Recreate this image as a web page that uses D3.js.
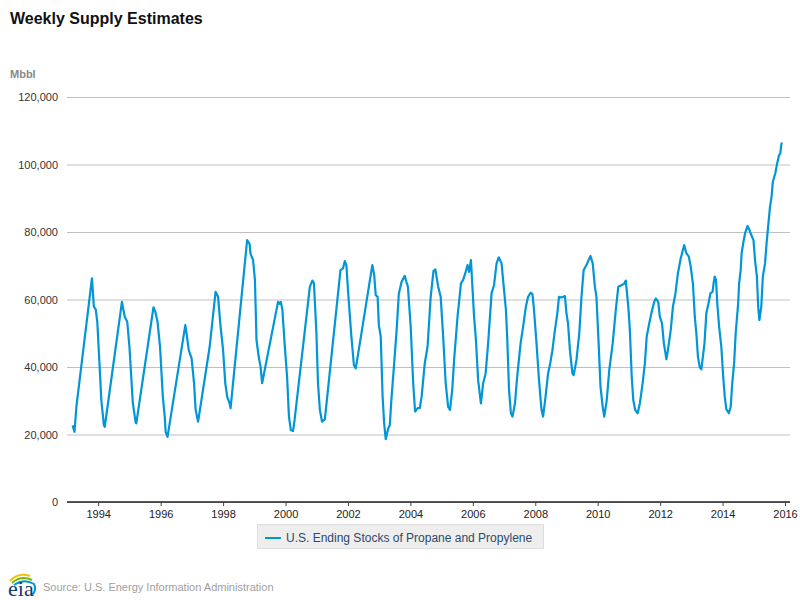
<!DOCTYPE html>
<html>
<head>
<meta charset="utf-8">
<script src="https://cdn.jsdelivr.net/npm/d3@7"></script>
<style>
  body { margin: 0; background: #fff; }
  svg { font-family: "Liberation Sans", Arial, sans-serif; }
</style>
</head>
<body>
<svg id="chart" width="800" height="600"></svg>
<script>
// Weekly propane/propylene stocks (decimal year, Mbbl)
const weeks = [
  1993.18, 1993.24, 1993.30, 1993.80, 1993.86, 1993.92, 1993.97, 1994.04, 1994.10, 1994.18, 1994.21,
  1994.76, 1994.85, 1994.93, 1995.00, 1995.11, 1995.20, 1995.22,
  1995.77, 1995.83, 1995.90, 1995.98, 1996.07, 1996.13, 1996.16, 1996.22,
  1996.79, 1996.83, 1996.90, 1996.99, 1997.07, 1997.12, 1997.20,
  1997.57, 1997.76, 1997.84, 1997.91, 1998.00, 1998.07, 1998.13, 1998.21, 1998.24,
  1998.77, 1998.85, 1998.88, 1998.96, 1999.02, 1999.07, 1999.14, 1999.20, 1999.25,
  1999.76, 1999.81, 1999.85, 1999.90, 1999.97, 2000.05, 2000.11, 2000.17, 2000.24, 2000.29,
  2000.78, 2000.86, 2000.91, 2000.99, 2001.04, 2001.10, 2001.17, 2001.26,
  2001.76, 2001.84, 2001.90, 2001.95, 2002.00, 2002.11, 2002.19, 2002.25, 2002.38,
  2002.78, 2002.84, 2002.89, 2002.95, 2002.99, 2003.05, 2003.11, 2003.16, 2003.21, 2003.29, 2003.34,
  2003.39, 2003.48, 2003.56, 2003.63, 2003.72, 2003.82, 2003.87, 2003.92,
  2004.01, 2004.09, 2004.15, 2004.23, 2004.30, 2004.36, 2004.46, 2004.55, 2004.65, 2004.74, 2004.80,
  2004.89, 2004.97, 2005.05, 2005.13, 2005.21, 2005.27, 2005.34, 2005.40, 2005.51, 2005.62, 2005.69,
  2005.77, 2005.83, 2005.88, 2005.94, 2005.98, 2006.04, 2006.10, 2006.17, 2006.26, 2006.33, 2006.41,
  2006.49, 2006.60, 2006.68, 2006.76, 2006.83, 2006.92, 2006.99, 2007.06, 2007.10, 2007.16, 2007.22,
  2007.27, 2007.35, 2007.42, 2007.53, 2007.61, 2007.70, 2007.77, 2007.85, 2007.91, 2007.96,
  2008.04, 2008.12, 2008.20, 2008.25, 2008.33, 2008.41, 2008.48, 2008.55, 2008.63, 2008.70, 2008.76,
  2008.84, 2008.95, 2009.00, 2009.05, 2009.11, 2009.19, 2009.23, 2009.32, 2009.41, 2009.48, 2009.55,
  2009.64, 2009.71, 2009.77, 2009.84, 2009.91, 2009.96, 2010.03, 2010.09, 2010.16, 2010.21, 2010.29,
  2010.37, 2010.48, 2010.58, 2010.66, 2010.77, 2010.84, 2010.90, 2010.98, 2011.03, 2011.09, 2011.14,
  2011.20, 2011.28, 2011.35, 2011.44, 2011.51, 2011.57, 2011.65, 2011.73, 2011.81, 2011.86, 2011.94,
  2011.99, 2012.06, 2012.12, 2012.17, 2012.20, 2012.25, 2012.34, 2012.41, 2012.49, 2012.57, 2012.66,
  2012.73, 2012.77, 2012.84, 2012.92, 2012.98, 2013.05, 2013.11, 2013.16, 2013.21, 2013.27, 2013.32,
  2013.37, 2013.42, 2013.48, 2013.55, 2013.61, 2013.68, 2013.72, 2013.75, 2013.79, 2013.83, 2013.89,
  2013.96, 2014.02, 2014.07, 2014.12, 2014.20, 2014.26, 2014.31, 2014.37, 2014.42, 2014.50, 2014.53,
  2014.58, 2014.61, 2014.67, 2014.72, 2014.80, 2014.86, 2014.92, 2014.99, 2015.04, 2015.10, 2015.14,
  2015.18, 2015.24, 2015.29, 2015.36, 2015.41, 2015.47, 2015.52, 2015.57, 2015.61, 2015.69, 2015.75,
  2015.81, 2015.85, 2015.88, 2015.90
];
const stocks = [
  22700, 20800, 28200, 66300, 57900, 57100, 53400, 41100, 30200, 22800, 22300,
  59300, 54900, 53400, 46000, 29200, 23500, 23300,
  57700, 56400, 53400, 46000, 31200, 25300, 20800, 19300,
  52400, 50000, 45000, 42600, 35200, 27300, 23800,
  46000, 62300, 60800, 52900, 45000, 35200, 31200, 29200, 27800,
  77600, 76400, 73500, 71700, 65800, 48000, 43100, 40100, 35200,
  59300, 58700, 59300, 56900, 47000, 37100, 25300, 21300, 21000, 24300,
  63800, 65600, 64800, 50000, 35200, 27300, 23800, 24500,
  68700, 69200, 71400, 70200, 62800, 49000, 40600, 39600, 47000,
  70200, 67300, 61300, 60800, 52400, 49000, 31200, 23300, 18600, 21800, 22800,
  30200, 41100, 51000, 61800, 65300, 67000, 65300, 63800,
  51900, 35200, 26800, 27800, 27800, 31200, 41100, 46000, 60800, 68500, 68900,
  63800, 60800, 49000, 35200, 28200, 27300, 33200, 42100, 54900, 64800, 65800,
  68200, 70200, 68200, 71700, 64800, 54900, 48000, 36100, 29200, 35200, 38100,
  47000, 61800, 64300, 70700, 72500, 70700, 63800, 56900, 49000, 33200, 26300,
  25300, 29200, 37100, 47000, 51900, 57900, 60800, 62000, 61600, 56900,
  47000, 36100, 27300, 25300, 31200, 38100, 41100, 45000, 51000, 55400, 60800,
  60600, 61000, 55900, 52900, 45000, 38100, 37600, 42100, 50000, 60800, 68700,
  70200, 71700, 72900, 70700, 63800, 60800, 47000, 34200, 28200, 25300, 30200,
  39100, 47000, 56900, 63800, 64300, 64600, 65600, 57900, 51000, 37100, 30200,
  27300, 26300, 29200, 35200, 41000, 49000, 52900, 56400, 59300, 60300, 59300,
  54900, 52900, 47000, 44100, 42300, 45000, 51000, 57900, 61800, 67800, 72200,
  74700, 76100, 73700, 72700, 69700, 64800, 54900, 50000, 43100, 39900, 39300,
  43100, 47000, 55900, 58900, 61800, 62300, 65300, 66800, 65800, 58900, 51900,
  46000, 37100, 31200, 27500, 26300, 28200, 35200, 41100, 50000, 58900, 64800,
  68700, 73700, 77100, 79600, 81800, 80600, 79100, 77600, 71700, 66800, 57900,
  53900, 57900, 66800, 70700, 76700, 82600, 87500, 90500, 94900, 97400, 100400,
  102800, 103300, 105800, 106500
];
const yearTicks = [1994, 1996, 1998, 2000, 2002, 2004, 2006, 2008, 2010, 2012, 2014, 2016];
const valueTicks = [0, 20000, 40000, 60000, 80000, 100000, 120000];
const seriesName = "U.S. Ending Stocks of Propane and Propylene";

const svg = d3.select("#chart");
const plot = { left: 67, right: 790, top: 97, bottom: 502 };

const x = d3.scaleLinear().domain([1993, 2016.16]).range([plot.left, plot.right]);
const y = d3.scaleLinear().domain([0, 120000]).range([plot.bottom, plot.top]);

// title + unit
svg.append("text").attr("x", 10).attr("y", 24)
  .attr("font-size", 16).attr("font-weight", "bold").attr("fill", "#111")
  .text("Weekly Supply Estimates");
svg.append("text").attr("x", 10).attr("y", 78)
  .attr("font-size", 11).attr("font-weight", "bold").attr("fill", "#888")
  .text("Mbbl");

// y gridlines + labels
const yAxis = svg.append("g").attr("transform", `translate(${plot.left},0)`)
  .call(d3.axisLeft(y).tickValues(valueTicks).tickSize(-(plot.right - plot.left)).tickPadding(9)
    .tickFormat(d3.format(",")));
yAxis.select(".domain").remove();
yAxis.selectAll("line").attr("stroke", "#c0c0c0");
yAxis.selectAll("text").attr("font-size", 11).attr("fill", "#333")
  .attr("font-family", "Liberation Sans, Arial, sans-serif");

// x axis
const xAxis = svg.append("g").attr("transform", `translate(0,${plot.bottom})`)
  .call(d3.axisBottom(x).tickValues(yearTicks).tickSize(4).tickPadding(4)
    .tickFormat(d3.format("d")));
xAxis.select(".domain").attr("stroke", "#222").attr("stroke-width", 1.5)
  .attr("d", `M${plot.left},0H${plot.right}`);
xAxis.selectAll("line").attr("stroke", "#444");
xAxis.selectAll("text").attr("font-size", 11).attr("fill", "#222")
  .attr("font-family", "Liberation Sans, Arial, sans-serif");

// the series
const line = d3.line()
  .x((d, i) => x(weeks[i]))
  .y(d => y(d));
svg.append("path").datum(stocks)
  .attr("fill", "none").attr("stroke", "#0096d7").attr("stroke-width", 2.2)
  .attr("stroke-linejoin", "round")
  .attr("d", line);

// legend
const lg = svg.append("g");
lg.append("rect").attr("x", 257.5).attr("y", 524.5).attr("width", 286).attr("height", 24)
  .attr("fill", "#eeeeee").attr("stroke", "#dddddd");
lg.append("line").attr("x1", 265).attr("x2", 281).attr("y1", 538).attr("y2", 538)
  .attr("stroke", "#0096d7").attr("stroke-width", 2);
lg.append("text").attr("x", 286).attr("y", 542)
  .attr("font-size", 12).attr("fill", "#2b4a6b").text(seriesName);

// footer with logo
const logo = svg.append("g").attr("transform", "translate(6,571)");
logo.append("path").attr("d", "M4,10 Q12,1 24,5").attr("fill", "none")
  .attr("stroke", "#f2c200").attr("stroke-width", 2);
logo.append("path").attr("d", "M6,12 Q15,4 26,9").attr("fill", "none")
  .attr("stroke", "#7ab800").attr("stroke-width", 2);
logo.append("path").attr("d", "M8,14 Q18,7 28,13 Q31,19 26,24").attr("fill", "none")
  .attr("stroke", "#0096d7").attr("stroke-width", 2);
logo.append("text").attr("x", 2).attr("y", 25)
  .attr("font-family", "Liberation Serif, serif").attr("font-size", 22)
  .attr("fill", "#123a6a").text("eia");
svg.append("text").attr("x", 43).attr("y", 591)
  .attr("font-size", 11).attr("fill", "#a0a0a0")
  .text("Source: U.S. Energy Information Administration");
</script>
</body>
</html>
